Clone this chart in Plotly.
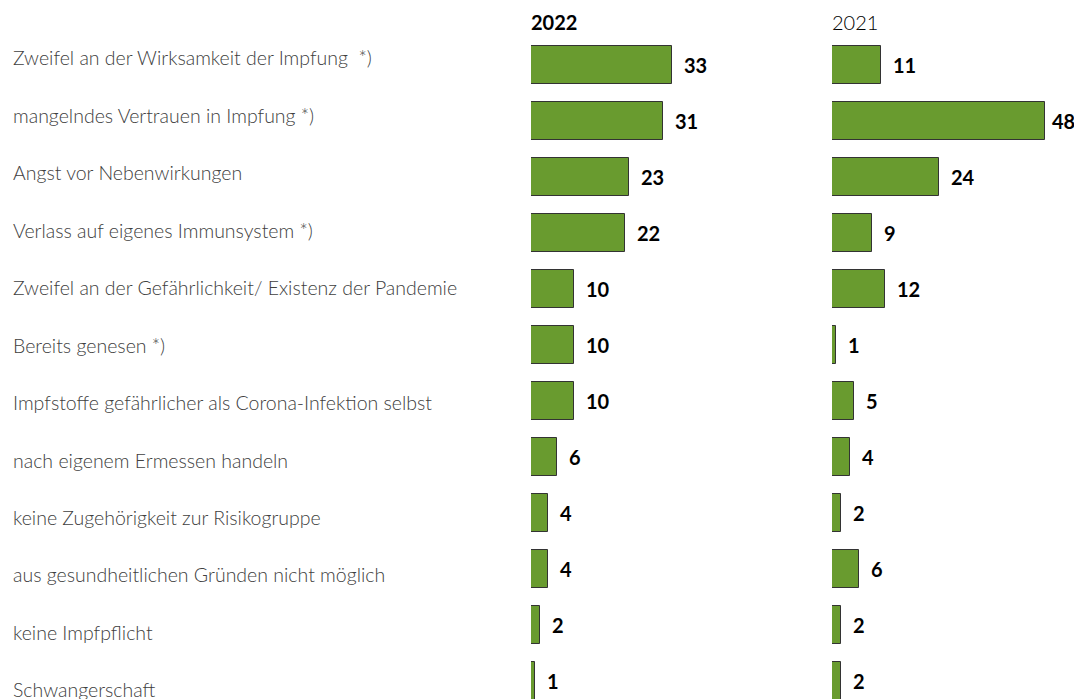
import plotly.graph_objects as go

categories = [
    "Zweifel an der Wirksamkeit der Impfung  *)",
    "mangelndes Vertrauen in Impfung *)",
    "Angst vor Nebenwirkungen",
    "Verlass auf eigenes Immunsystem *)",
    "Zweifel an der Gefährlichkeit/ Existenz der Pandemie",
    "Bereits genesen *)",
    "Impfstoffe gefährlicher als Corona-Infektion selbst",
    "nach eigenem Ermessen handeln",
    "keine Zugehörigkeit zur Risikogruppe",
    "aus gesundheitlichen Gründen nicht möglich",
    "keine Impfpflicht",
    "Schwangerschaft",
]
values_2022 = [33, 31, 23, 22, 10, 10, 10, 6, 4, 4, 2, 1]
values_2021 = [11, 48, 24, 9, 12, 1, 5, 4, 2, 6, 2, 2]
years = ["2022", "2021"]

OX, OY = 8, 8  # page body margin
W, H = 1082 - OX, 699
BAR_FILL = "#699B2F"
BAR_LINE = "#333333"
LABEL_FONT = dict(family="Lato", size=19.5, color="#404040", weight=300)
VALUE_FONT = dict(family="Lato", size=20, color="#000000", weight=700)

px1, px2 = 4.27, 4.44
x0_1, x0_2 = 531 - OX, 832 - OX
visible_right = 1074 - OX

fig = go.Figure()

for i, vals in enumerate([values_2022, values_2021]):
    ax = "" if i == 0 else "2"
    x0, pxu = (x0_1, px1) if i == 0 else (x0_2, px2)
    fig.add_trace(go.Bar(
        x=vals, y=categories, orientation="h",
        xaxis="x" + ax, yaxis="y" + ax,
        width=0.68,
        marker=dict(color=BAR_FILL, line=dict(color=BAR_LINE, width=1)),
        showlegend=False, hoverinfo="skip",
    ))
    for c, v in zip(categories, vals):
        # keep the label inside the visible page area
        end = x0 + v * pxu
        shift = min(10, visible_right - end - 24)
        fig.add_annotation(
            x=v, y=c, xref="x" + ax, yref="y" + ax,
            text=str(v), showarrow=False, xanchor="left", yanchor="middle",
            xshift=shift, font=VALUE_FONT,
        )
    fig.add_annotation(
        x=0, y=1 - (22 - OY) / H, xref=("x" + ax) + " domain", yref="paper",
        text=years[i], showarrow=False, xanchor="left", yanchor="middle",
        xshift=-2,
        font=dict(family="Lato", size=20, color="#000000",
                  weight=700 if i == 0 else 300),
    )

# category labels on their own axis
fig.add_trace(go.Scatter(
    x=[0] * len(categories), y=categories, mode="text", text=categories,
    textposition="middle right", textfont=LABEL_FONT,
    xaxis="x3", yaxis="y3", showlegend=False, hoverinfo="skip",
    cliponaxis=False,
))

d1 = (x0_1 / W, (800 - OX) / W)
d2 = (x0_2 / W, 1.0)
y_top = -(65 - OY) / 56
y_bot = y_top + H / 56
l_top = -(60.5 - OY) / 57.45
l_bot = l_top + H / 57.45

axis_off = dict(visible=False, showgrid=False, zeroline=False, fixedrange=True)
fig.update_layout(
    width=W, height=H,
    margin=dict(l=0, r=0, t=0, b=0),
    paper_bgcolor="white", plot_bgcolor="white",
    bargap=0,
    xaxis=dict(domain=d1, range=[0, (800 - 531) / px1], **axis_off),
    yaxis=dict(domain=[0, 1], range=[y_bot, y_top], type="category",
               categoryorder="array", categoryarray=categories, **axis_off),
    xaxis2=dict(domain=d2, range=[0, (W - x0_2) / px2], anchor="y2",
                **axis_off),
    yaxis2=dict(domain=[0, 1], range=[y_bot, y_top], type="category",
                categoryorder="array", categoryarray=categories, anchor="x2",
                **axis_off),
    xaxis3=dict(domain=[(13 - OX) / W, 0.48], range=[0, 1], anchor="y3",
                **axis_off),
    yaxis3=dict(domain=[0, 1], range=[l_bot, l_top], type="category",
                categoryorder="array", categoryarray=categories, anchor="x3",
                **axis_off),
)

fig.write_html("out.html")
